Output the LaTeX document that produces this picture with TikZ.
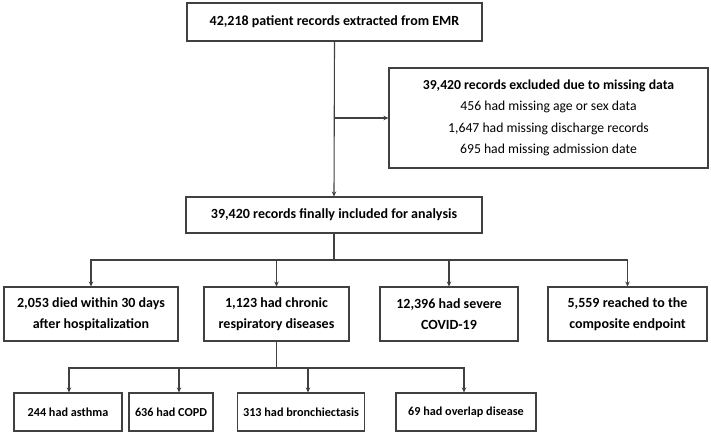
\documentclass[tikz,border=0pt]{standalone}
\usepackage{fontspec}
\setmainfont{Carlito}
\usetikzlibrary{arrows.meta,calc,positioning}
\definecolor{boxline}{RGB}{64,64,64}
\tikzset{
  box/.style={draw=boxline, line width=1.1pt, fill=white,
              inner sep=2pt, align=center, font=\fontsize{14}{21}\selectfont\bfseries},
  smallbox/.style={box, font=\fontsize{12.2}{15}\selectfont\bfseries},
  wire/.style={draw=boxline, line width=1.1pt},
  flow/.style={wire, -{Stealth[length=5pt,width=4.5pt]}},
}

\begin{document}
\begin{tikzpicture}[x=1pt,y=-1pt]
  \path[use as bounding box] (0,0) rectangle (711,435);

  % Extraction and exclusion.
  \node[box, minimum width=295pt, minimum height=38pt] (emr) at (334.5,22)
    {42,218 patient records extracted from EMR};
  \node[box, minimum width=319pt, minimum height=100pt,
        font=\fontsize{13.7}{21.5}\selectfont] (excl) at (548.5,118)
    {{\bfseries 39,420 records excluded due to missing data}\\
     456 had missing age or sex data\\
     1,647 had missing discharge records\\
     695 had missing admission date};
  \node[box, minimum width=296pt, minimum height=36pt] (incl) at (334,215)
    {39,420 records finally included for analysis};

  \coordinate (split) at (emr.south |- excl.west);
  \draw[flow] (emr.south) -- (incl.north);
  \draw[flow] (split) -- (excl.west);

  % Outcomes.
  \node[box, minimum width=174pt, minimum height=54pt] (died) at (91,314)
    {2,053 died within 30 days\\after hospitalization};
  \node[box, minimum width=145pt, minimum height=54pt] (chronic) at (276.5,314)
    {1,123 had chronic\\respiratory diseases};
  \node[box, minimum width=138pt, minimum height=54pt] (covid) at (449,314)
    {12,396 had severe\\COVID-19};
  \node[box, minimum width=159pt, minimum height=54pt] (endpt) at (627.5,314)
    {5,559 reached to the\\composite endpoint};

  \coordinate (bus) at (334,260);
  \draw[wire] (incl.south) -- (bus);
  \foreach \target in {died,chronic,covid,endpt}
    \draw[flow] (bus) -| (\target.north);

  % Chronic respiratory subgroups.
  \node[smallbox, minimum width=108pt, minimum height=38pt] (asthma) at (68,412)
    {244 had asthma};
  \node[smallbox, minimum width=84pt, minimum height=38pt] (copd) at (171,412)
    {636 had COPD};
  \node[smallbox, minimum width=127pt, minimum height=38pt] (bronch) at (301,412)
    {313 had bronchiectasis};
  \node[smallbox, minimum width=140pt, minimum height=38pt] (overlap) at (466,412)
    {69 had overlap disease};

  \coordinate (bus2) at (chronic.south |- 0,368);
  \draw[wire] (chronic.south) -- (bus2);
  \foreach \target/\dx in {asthma/1,copd/8,bronch/7,overlap/-2}
    \draw[flow] (bus2) -| ($(\target.north)+(\dx,0)$);
\end{tikzpicture}
\end{document}
